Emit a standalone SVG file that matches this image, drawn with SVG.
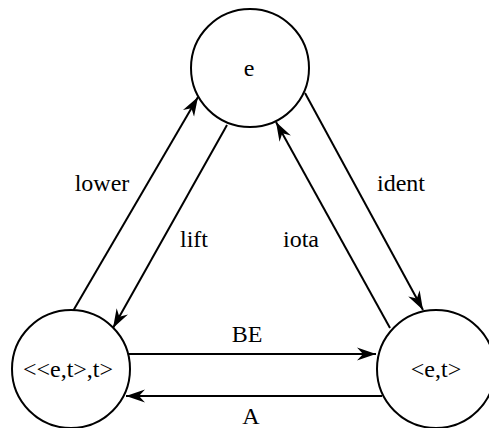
<svg xmlns="http://www.w3.org/2000/svg" width="489" height="428" viewBox="0 0 489 428" font-family="'Liberation Serif', 'Times New Roman', 'DejaVu Serif', serif">
<style>
.node circle{fill:#fff;stroke:#000;stroke-width:2}
text{font-family:'Liberation Serif','Times New Roman','DejaVu Serif',serif;font-size:24px;fill:#000;text-anchor:middle}
.edge{stroke:#000;stroke-width:2;fill:none;marker-end:url(#arr)}
</style>
<defs>
<marker id="arr" markerUnits="userSpaceOnUse" viewBox="-19 -7 20 14" refX="0" refY="0" markerWidth="20" markerHeight="14" orient="auto">
<path d="M0,0 L-19,-6.5 L-13,0 L-19,6.5 Z" fill="#000"/>
</marker>
</defs>
<rect width="489" height="428" fill="#fff"/>
<g id="connectors">
<path class="edge" d="M126,354 L376,354"/>
<path class="edge" d="M382,396 L126,396"/>
<path class="edge" d="M73,311 L198,97"/>
<path class="edge" d="M227,125 L113,328"/>
<path class="edge" d="M305,93 L423,310"/>
<path class="edge" d="M390,328 L276,122"/>
<text x="247" y="342">BE</text>
<text x="251" y="424">A</text>
<text x="102" y="191">lower</text>
<text x="194" y="247">lift</text>
<text x="401" y="191">ident</text>
<text x="301" y="247">iota</text>
</g>
<g id="node-e" class="node">
<circle cx="250" cy="68" r="59"/>
<text x="249" y="76">e</text>
</g>
<g id="node-eet" class="node">
<circle cx="71" cy="369" r="59"/>
<text x="68" y="377">&lt;&lt;e,t&gt;,t&gt;</text>
</g>
<g id="node-et" class="node">
<circle cx="436" cy="369" r="59"/>
<text x="436" y="377">&lt;e,t&gt;</text>
</g>
</svg>
